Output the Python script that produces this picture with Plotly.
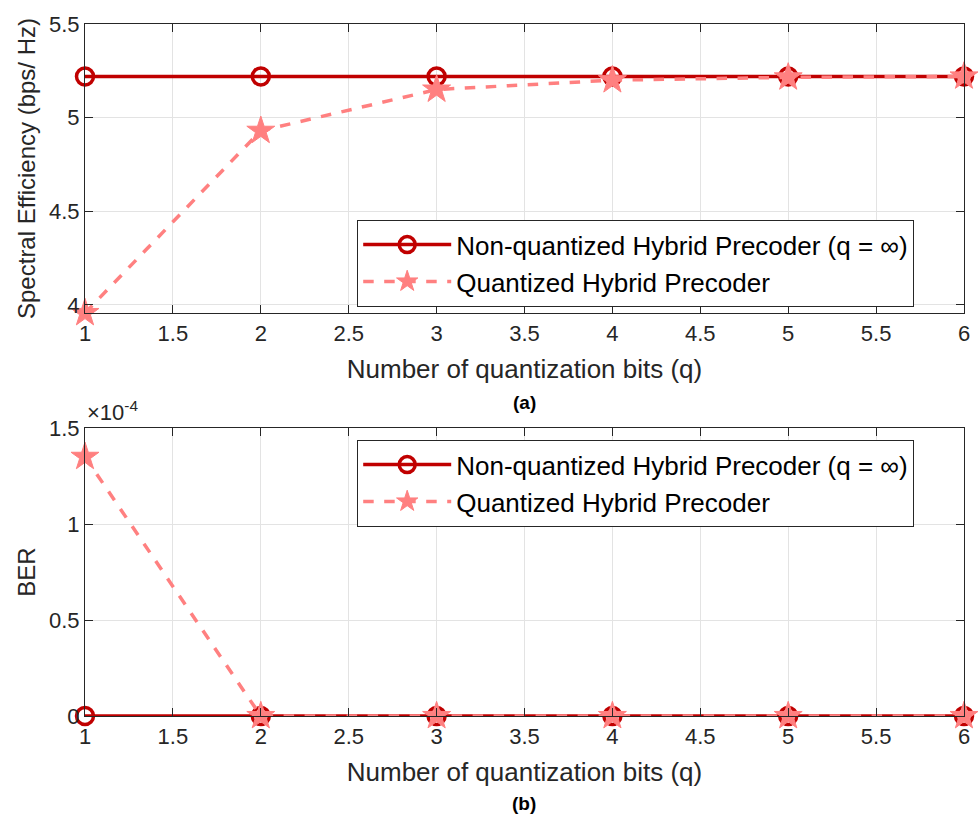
import plotly.graph_objects as go

# Data
bits = [1, 2, 3, 4, 5, 6]
se_nonquant = [5.22, 5.22, 5.22, 5.22, 5.22, 5.22]
se_quant = [3.957, 4.93, 5.15, 5.20, 5.215, 5.22]
ber_nonquant = [0, 0, 0, 0, 0, 0]
ber_quant = [1.35e-4, 0, 0, 0, 0, 0]

x_ticks = [1, 1.5, 2, 2.5, 3, 3.5, 4, 4.5, 5, 5.5, 6]
x_ticktext = ["1", "1.5", "2", "2.5", "3", "3.5", "4", "4.5", "5", "5.5", "6"]
se_ticks = [4, 4.5, 5, 5.5]
se_ticktext = ["4", "4.5", "5", "5.5"]
ber_ticks = [0, 0.5e-4, 1e-4, 1.5e-4]
ber_ticktext = ["0", "0.5", "1", "1.5"]

name_nq = "Non-quantized Hybrid Precoder (q = \u221e)"
name_q = "Quantized Hybrid Precoder"

DARK = "#C00000"
PINK = "#FF8080"
INK = "#262626"
FONT = "Liberation Sans, Arial, sans-serif"
W, H = 980, 818

# Plot-area box in pixels (left, right, top, bottom)
L, R, T, B = 85, 964, 24, 716
PW, PH = R - L, B - T


def fx(v):
    return (v - L) / PW


def fy(v):
    return (B - v) / PH


fig = go.Figure()


def add_pair(xa, ya, y_nq, y_q, legend):
    fig.add_trace(go.Scatter(
        x=bits, y=y_nq, name=name_nq, mode="lines+markers",
        line=dict(color=DARK, width=3.5),
        marker=dict(symbol="circle-open", size=17, color=DARK,
                    line=dict(width=3.5, color=DARK)),
        xaxis=xa, yaxis=ya, legend=legend, cliponaxis=False))
    fig.add_trace(go.Scatter(
        x=bits, y=y_q, name=name_q, mode="lines+markers",
        line=dict(color=PINK, width=3.5, dash="dash"),
        marker=dict(symbol="star", size=21, color=PINK,
                    line=dict(width=1, color=PINK)),
        xaxis=xa, yaxis=ya, legend=legend, cliponaxis=False))


add_pair("x", "y", se_nonquant, se_quant, "legend")
add_pair("x2", "y2", ber_nonquant, ber_quant, "legend2")

axis_common = dict(
    showline=True, linecolor=INK, linewidth=1.2, mirror="ticks",
    ticks="inside", ticklen=8, tickcolor=INK, tickwidth=1.2,
    showgrid=True, gridcolor="#E3E3E3", gridwidth=1, zeroline=False,
    automargin=False,
    tickfont=dict(family=FONT, size=22, color=INK),
)

xaxis_cfg = dict(
    axis_common, range=[1, 6], tickvals=x_ticks, ticktext=x_ticktext,
    domain=[0, 1],
    title=dict(text="Number of quantization bits (q)", standoff=15,
               font=dict(family=FONT, size=26, color=INK)))

legend_cfg = dict(
    xanchor="left", yanchor="top", bgcolor="white",
    bordercolor=INK, borderwidth=1.2,
    font=dict(family=FONT, size=26, color="black"),
    itemwidth=88, tracegroupgap=0)

fig.update_layout(
    width=W, height=H,
    margin=dict(l=L, r=W - R, t=T, b=H - B),
    paper_bgcolor="white", plot_bgcolor="white",
    font=dict(family=FONT, color=INK),
    xaxis=dict(xaxis_cfg, anchor="y"),
    yaxis=dict(axis_common, range=[se_quant[0], 5.5], tickvals=se_ticks,
               ticktext=se_ticktext, domain=[fy(313), 1], anchor="x",
               title=dict(text="Spectral Efficiency (bps/ Hz)", standoff=6,
                          font=dict(family=FONT, size=24, color=INK))),
    xaxis2=dict(xaxis_cfg, anchor="y2"),
    yaxis2=dict(axis_common, range=[0, 1.5e-4], tickvals=ber_ticks,
                ticktext=ber_ticktext, domain=[0, fy(428)], anchor="x2",
                title=dict(text="BER", standoff=6,
                           font=dict(family=FONT, size=24, color=INK))),
    legend=dict(legend_cfg, x=fx(357), y=fy(220)),
    legend2=dict(legend_cfg, x=fx(357), y=fy(440)),
    showlegend=True,
)

fig.add_annotation(text="<b>(a)</b>", x=fx(524), y=fy(403), xref="paper", yref="paper",
                   xanchor="center", yanchor="middle", showarrow=False,
                   font=dict(family=FONT, size=19, color="black"))
fig.add_annotation(text="<b>(b)</b>", x=fx(524), y=fy(803), xref="paper", yref="paper",
                   xanchor="center", yanchor="middle", showarrow=False,
                   font=dict(family=FONT, size=19, color="black"))
fig.add_annotation(text="\u00d710<sup>-4</sup>", x=fx(85), y=fy(411), xref="paper", yref="paper",
                   xanchor="left", yanchor="middle", showarrow=False,
                   font=dict(family=FONT, size=22, color=INK))

fig.write_html("out.html")
